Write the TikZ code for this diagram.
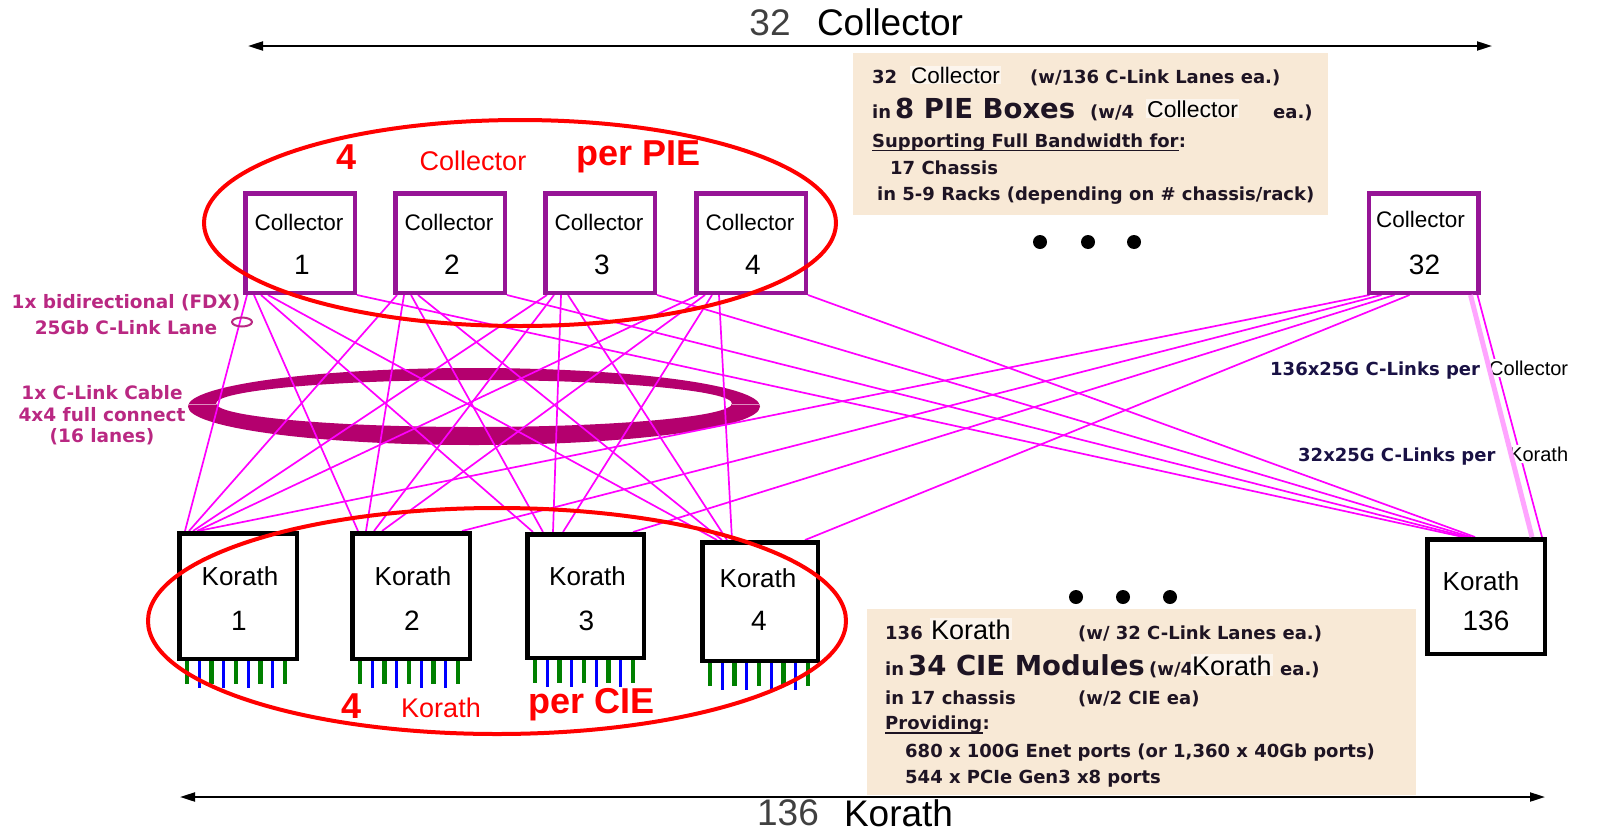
\documentclass[tikz,border=0pt]{standalone}
\usepackage{fontspec}
\setmainfont{Liberation Sans}
\newfontfamily\dvs{DejaVu Sans}
\usetikzlibrary{arrows.meta,calc}

\definecolor{boxpurple}{RGB}{150,20,150}
\definecolor{linkcol}{RGB}{255,0,255}
\definecolor{palelink}{RGB}{255,165,255}
\definecolor{cablecol}{RGB}{180,0,110}
\definecolor{notecol}{RGB}{185,40,130}
\definecolor{beige}{RGB}{248,233,214}
\definecolor{portgreen}{RGB}{0,128,0}
\definecolor{portblue}{RGB}{0,0,255}
\definecolor{ink}{RGB}{30,20,35}

\newcommand\setfs[1]{\fontsize{#1}{#1}\selectfont}

\tikzset{
  collbox/.style={draw=boxpurple, line width=4.5pt, fill=white, inner sep=0pt,
    minimum width=109.5pt, minimum height=99.5pt},
  korbox/.style={draw=black, line width=4.5pt, fill=white, inner sep=0pt},
  boxname/.style={inner sep=0pt, font=\setfs{22.5}},
  boxnum/.style={inner sep=0pt, font=\setfs{28}},
  kname/.style={inner sep=0pt, font=\setfs{26}},
  link/.style={draw=linkcol, line width=1.7pt},
  portg/.style={draw=portgreen, line width=4.5pt},
  portb/.style={draw=portblue, line width=3pt},
  ring/.style={draw=red, line width=4pt},
  redbig/.style={text=red, inner sep=0pt, font=\bfseries\setfs{36}},
  redname/.style={text=red, inner sep=0pt, font=\setfs{27}},
  sidenote/.style={text=notecol, inner sep=0pt, font=\dvs\bfseries\setfs{18.5}},
  notebox/.style={fill=beige, inner sep=0pt, anchor=north west},
  ntxt/.style={text=ink, inner sep=0pt, anchor=base west, font=\dvs\bfseries\setfs{18}},
  nbig/.style={text=ink, inner sep=0pt, anchor=base west, font=\dvs\bfseries\setfs{27.5}},
  nname/.style={text=black, inner sep=1pt, anchor=base west, fill=white!55!beige},
  rtxt/.style={text=ink!85!blue, inner sep=0pt, anchor=base west, font=\dvs\bfseries\setfs{18}},
  rname/.style={text=black, inner sep=2pt, anchor=base west, fill=white, font=\setfs{20}},
  span/.style={draw=black, line width=2pt, {Triangle[length=15pt,width=9pt]}-{Triangle[length=15pt,width=9pt]}},
  title/.style={inner sep=0pt, font=\setfs{37}},
}

\begin{document}
\begin{tikzpicture}[x=1pt,y=-1pt]
\useasboundingbox (0,0) rectangle (1599,833);

% ---------- note panels ----------
\node[notebox, minimum width=475pt, minimum height=162pt] (pie-note) at (853,53) {};
\node[ntxt] (pn1a) at (872,83) {32};
\node[nname, font=\setfs{22.5}] (pn1b) at (910,83) {Collector};
\node[ntxt] (pn1c) at (1030,83) {(w/136 C-Link Lanes ea.)};
\node[ntxt] (pn2a) at (872,118) {in};
\node[nbig] (pn2b) at (895,118) {8 PIE Boxes};
\node[ntxt] (pn2c) at (1090,118) {(w/4};
\node[nname, font=\setfs{23}] (pn2d) at (1146,117) {Collector};
\node[ntxt] (pn2e) at (1273,118) {ea.)};
\node[ntxt] (pn3a) at (872,147) {Supporting Full Bandwidth for};
\node[ntxt] (pn3b) at (pn3a.base east) {:};
\draw[ink, line width=1.8pt] ([yshift=-3.5pt]pn3a.base west) -- ([yshift=-3.5pt]pn3a.base east);
\node[ntxt] (pn4) at (890,174) {17 Chassis};
\node[ntxt] (pn5) at (877,200) {in 5-9 Racks (depending on \# chassis/rack)};

\node[notebox, minimum width=549pt, minimum height=186pt] (cie-note) at (867,609) {};
\node[ntxt] (cn1a) at (885,639) {136};
\node[nname, font=\setfs{27}] (cn1b) at (930,639) {Korath};
\node[ntxt] (cn1c) at (1078,639) {(w/ 32 C-Link Lanes ea.)};
\node[ntxt] (cn2a) at (885,675) {in};
\node[nbig] (cn2b) at (908,675) {34 CIE Modules};
\node[ntxt] (cn2c) at (1149,675) {(w/4};
\node[nname, font=\setfs{27}] (cn2d) at (1191,675) {Korath};
\node[ntxt] (cn2e) at (1280,675) {ea.)};
\node[ntxt] (cn3a) at (885,704) {in 17 chassis};
\node[ntxt] (cn3b) at (1078,704) {(w/2 CIE ea)};
\node[ntxt] (cn4a) at (885,729.5) {Providing};
\node[ntxt] (cn4b) at (cn4a.base east) {:};
\draw[ink, line width=1.8pt] ([yshift=-3.5pt]cn4a.base west) -- ([yshift=-3.5pt]cn4a.base east);
\node[ntxt] (cn5) at (905,757) {680 x 100G Enet ports (or 1,360 x 40Gb ports)};
\node[ntxt] (cn6) at (905,783.5) {544 x PCIe Gen3 x8 ports};

% ---------- C-Link cable bundle ----------
\fill[cablecol, even odd rule] (474,406.5) ellipse [x radius=286pt, y radius=38.5pt]
                               (474,403.5) ellipse [x radius=258pt, y radius=23.5pt];
\draw[white!55!cablecol, line width=0.8pt] (188,404) -- (216,404) (732,404) -- (760,404);

% ---------- boxes (placed first so links can refer to them) ----------
\node[collbox] (c1) at (300,243) {};
\node[collbox] (c2) at (450,243) {};
\node[collbox] (c3) at (600,243) {};
\node[collbox] (c4) at (751,243) {};
\node[collbox] (c32) at (1423.5,243) {};
\node[korbox, minimum width=117.5pt, minimum height=125.5pt] (k1) at (238,596) {};
\node[korbox, minimum width=117.5pt, minimum height=125.5pt] (k2) at (411,596) {};
\node[korbox, minimum width=116.5pt, minimum height=123.5pt] (k3) at (585.5,596) {};
\node[korbox, minimum width=115.5pt, minimum height=118.5pt] (k4) at (760,601.5) {};
\node[korbox, minimum width=117.5pt, minimum height=114.5pt] (k136) at (1486,596.5) {};

% ---------- C-Link lanes ----------
\foreach \i in {1,2,3,4}{
  \foreach \j/\base/\stp in {1/8/4, 2/8/8, 3/8/10, 4/17/5}{
    \pgfmathsetmacro\so{4+7*(\j-1)}
    \pgfmathsetmacro\eo{\base+\stp*(\i-1)}
    \draw[link] ($(c\i.south west)+(\so,0)$) -- ($(k\j.north west)+(\eo,0)$);
  }
}
\foreach \j/\so/\ea/\eo in {1/3/north west/21, 2/15/north east/-10, 3/28/north east/-13, 4/43/north east/-15}
  \draw[link] ($(c32.south west)+(\so,0)$) -- ($(k\j.\ea)+(\eo,0)$);
\foreach \i/\eo in {1/38, 2/42, 3/46, 4/50}
  \draw[link] (c\i.south east) -- ($(k136.north west)+(\eo,0)$);
\draw[link] ($(c32.south east)+(-3,0)$) -- ($(k136.north east)+(-5,0)$);

% ---------- ports under the Korath modules ----------
\foreach \k in {k1,k2,k3,k4}{
  \foreach \n in {0,2,4,6,8} \draw[portg] ($(\k.south west)+(9.75+12.3*\n,0)$) -- ++(0,23);
  \foreach \n in {1,3,5,7} \draw[portb] ($(\k.south west)+(9.75+12.3*\n,0)$) -- ++(0,27);
}

% redraw boxes on top of lane ends
\node[collbox] at (c1) {};
\node[collbox] at (c2) {};
\node[collbox] at (c3) {};
\node[collbox] at (c4) {};
\node[collbox] at (c32) {};
\node[korbox, minimum width=117.5pt, minimum height=125.5pt] at (k1) {};
\node[korbox, minimum width=117.5pt, minimum height=125.5pt] at (k2) {};
\node[korbox, minimum width=116.5pt, minimum height=123.5pt] at (k3) {};
\node[korbox, minimum width=115.5pt, minimum height=118.5pt] at (k4) {};
\node[korbox, minimum width=117.5pt, minimum height=114.5pt] at (k136) {};

% box labels
\foreach \b/\n in {c1/1, c2/2, c3/3, c4/4}{
  \node[boxname] at ($(\b)+(-1,-21)$) {Collector};
  \node[boxnum] at ($(\b)+(2,22)$) {\n};
}
\node[boxname] (c32-name) at ($(c32)+(-3,-24)$) {Collector};
\node[boxnum] (c32-num) at ($(c32)+(1,22)$) {32};
\foreach \b/\n in {k1/1, k2/2, k3/3}{
  \node[kname] at ($(\b)+(2,-20)$) {Korath};
  \node[boxnum] at ($(\b)+(1,25)$) {\n};
}
\node[kname] (k4-name) at ($(k4)+(-2,-23.5)$) {Korath};
\node[boxnum] (k4-num) at ($(k4)+(-1,19.5)$) {4};
\node[kname] (k136-name) at ($(k136)+(-5,-15.5)$) {Korath};
\node[boxnum] (k136-num) at ($(k136)+(0,24.5)$) {136};

% ---------- lane annotations ----------
\node[rtxt] (r1a) at (1270,375) {136x25G C-Links per};
\node[rname] (r1b) at (1487,375) {Collector};
\node[rtxt] (r2a) at (1298,461) {32x25G C-Links per};
\node[rname] (r2b) at (1507,461) {Korath};
\draw[palelink, line width=5pt] ($(c32.south east)+(-10,0)$) -- ($(k136.north east)+(-15,0)$);

\node[sidenote] (s1) at (126,303) {1x bidirectional (FDX)};
\node[sidenote] (s2) at (126,328) {25Gb C-Link Lane};
\node[sidenote] (s3) at (102,393) {1x C-Link Cable};
\node[sidenote] (s4) at (102,415) {4x4 full connect};
\node[sidenote] (s5) at (102,437) {(16 lanes)};
\draw[notecol, line width=2pt] (242,322) ellipse [x radius=10pt, y radius=4.5pt];

% ---------- continuation dots ----------
\foreach \x in {1040,1088,1134} \fill (\x,242) circle [radius=7pt];
\foreach \x in {1076,1123,1170} \fill (\x,597) circle [radius=7pt];

% ---------- groupings ----------
\draw[ring] (520,223) ellipse [x radius=316pt, y radius=103pt];
\draw[ring] (497,621) ellipse [x radius=349pt, y radius=113pt];
\node[redbig] (pie-n) at (347,157) {4};
\node[redname] (pie-c) at (473,161) {Collector};
\node[redbig] (pie-p) at (639,157) {per PIE};
\node[redbig] (cie-n) at (352,706) {4};
\node[redname] (cie-k) at (441,708) {Korath};
\node[redbig] (cie-p) at (592,705) {per CIE};

% ---------- totals ----------
\coordinate (top-l) at (248,46);
\coordinate (top-r) at (1492,46);
\draw[span] (top-l) -- (top-r);
\node[title, text=black!75] (top-n) at (770,22.5) {32};
\node[title] (top-c) at (890,22.5) {Collector};
\coordinate (bot-l) at (180,797);
\coordinate (bot-r) at (1545,797);
\draw[span] (bot-l) -- (bot-r);
\node[title, text=black!75] (bot-n) at (788,813) {136};
\node[title] (bot-k) at (898.5,813) {Korath};
\end{tikzpicture}
\end{document}
